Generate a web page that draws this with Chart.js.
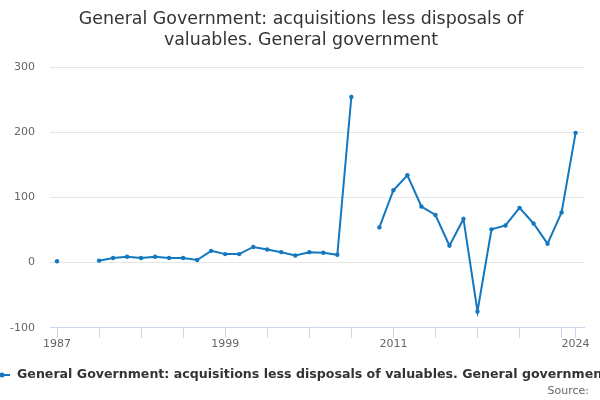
<!DOCTYPE html>
<html>
<head>
<meta charset="utf-8">
<script src="https://cdn.jsdelivr.net/npm/chart.js@4"></script>
<style>
html,body{margin:0;padding:0;background:#fff;}
#wrap{width:600px;height:400px;}
</style>
</head>
<body>
<div id="wrap"><canvas id="c" width="600" height="400"></canvas></div>
<script>
const years = [1987,1988,1989,1990,1991,1992,1993,1994,1995,1996,1997,1998,1999,2000,2001,2002,2003,2004,2005,2006,2007,2008,2009,2010,2011,2012,2013,2014,2015,2016,2017,2018,2019,2020,2021,2022,2023,2024];
const values = [2,null,null,3,7,9,7,9,7,7,4,18,13,13,24,20,16,11,16,15,12,254,null,54,111,134,86,73,26,67,-75,51,57,84,60,29,77,199];
const xTickPositions = [1987,1990,1993,1996,1999,2002,2005,2008,2011,2014,2017,2020,2023,2024];
const xTickLabels = [1987,1999,2011,2024];
const yTicks = [-100,0,100,200,300];
const titleLines = ["General Government: acquisitions less disposals of","valuables. General government"];
const seriesName = "General Government: acquisitions less disposals of valuables. General government";
const sourceText = "Source:";

const lineColor = "#1378c0";
const points = years.map((y,i)=>({x:y,y:values[i]}));

const textPlugin = {
  id:'customText',
  afterDraw(chart){
    const ctx = chart.ctx;
    ctx.save();
    // title
    ctx.font = '17.4px "DejaVu Sans"';
    ctx.fillStyle = '#333333';
    ctx.textAlign = 'center';
    ctx.textBaseline = 'middle';
    ctx.fillText(titleLines[0],301,19.5);
    ctx.fillText(titleLines[1],301,40.5);
    // legend
    const y = 375;
    ctx.strokeStyle = lineColor;
    ctx.lineWidth = 2;
    ctx.beginPath();
    ctx.moveTo(-6,y); ctx.lineTo(10,y); ctx.stroke();
    ctx.fillStyle = lineColor;
    ctx.beginPath(); ctx.arc(2,y,2.5,0,Math.PI*2); ctx.fill();
    ctx.font = 'bold 12.6px "DejaVu Sans"';
    ctx.fillStyle = '#333333';
    ctx.textBaseline = 'middle';
    ctx.textAlign = 'left';
    ctx.fillText(seriesName,17,y);
    ctx.font = '11px "DejaVu Sans"';
    ctx.fillStyle = '#666666';
    ctx.textAlign = 'right';
    ctx.fillText(sourceText,589,391);
    ctx.restore();
  }
};

new Chart(document.getElementById('c'),{
  type:'line',
  data:{datasets:[{
    label:seriesName,
    data:points,
    borderColor:lineColor,
    backgroundColor:lineColor,
    borderWidth:2,
    pointRadius:2.2,
    pointHoverRadius:2.2,
    pointBorderWidth:0,
    spanGaps:false,
    tension:0
  }]},
  options:{
    responsive:false,
    animation:false,
    devicePixelRatio:1,
    layout:{padding:{left:0,right:16,top:67,bottom:49}},
    plugins:{
      legend:{display:false},
      tooltip:{enabled:false},
      title:{display:false}
    },
    scales:{
      x:{
        type:'linear',
        min:1986.5,
        max:2024.6,
        afterBuildTicks(scale){ scale.ticks = xTickPositions.map(v=>({value:v})); },
        ticks:{
          autoSkip:false,
          maxRotation:0,
          color:'#666666',
          font:{family:'"DejaVu Sans"',size:11},
          padding:0,
          callback:(v)=> xTickLabels.includes(v) ? String(v) : ''
        },
        grid:{display:true,drawOnChartArea:false,drawTicks:true,tickLength:10,color:'#ccd6eb',lineWidth:1},
        border:{display:true,color:'#ccd6eb',width:1}
      },
      y:{
        min:-100,max:300,
        afterBuildTicks(scale){ scale.ticks = yTicks.map(v=>({value:v})); },
        afterFit(scale){ scale.width = 50; },
        ticks:{color:'#666666',font:{family:'"DejaVu Sans"',size:11},padding:15},
        grid:{color:'#e6e6e6',lineWidth:1,drawTicks:false},
        border:{display:false}
      }
    }
  },
  plugins:[textPlugin]
});
</script>
</body>
</html>
